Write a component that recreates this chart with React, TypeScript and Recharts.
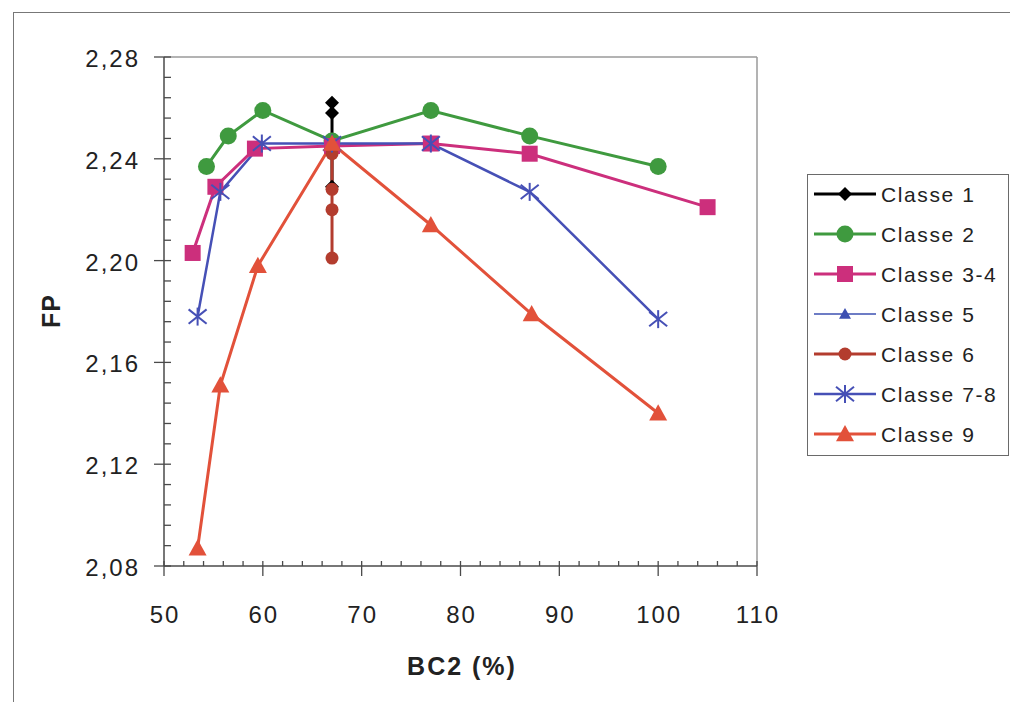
import { LineChart, Line, XAxis, YAxis, Legend, ReferenceLine } from "recharts";

// BC2 (%) / FP per class
const classe1BC2 = [67, 67, 67, 67];
const classe1FP = [2.262, 2.258, 2.246, 2.229];

const classe2BC2 = [54.3, 56.5, 60, 67, 77, 87, 100];
const classe2FP = [2.237, 2.249, 2.259, 2.247, 2.259, 2.249, 2.237];

const classe34BC2 = [52.9, 55.2, 59.2, 67, 77, 87, 105];
const classe34FP = [2.203, 2.229, 2.244, 2.245, 2.246, 2.242, 2.221];

const classe5BC2 = [67];
const classe5FP = [2.246];

const classe6BC2 = [67, 67, 67, 67];
const classe6FP = [2.242, 2.228, 2.22, 2.201];

const classe78BC2 = [53.4, 55.7, 59.9, 67, 77, 87, 100];
const classe78FP = [2.178, 2.227, 2.246, 2.246, 2.246, 2.227, 2.177];

const classe9BC2 = [53.4, 55.7, 59.5, 67, 77, 87.2, 100];
const classe9FP = [2.087, 2.151, 2.198, 2.246, 2.214, 2.179, 2.14];

const xMajorTicks = [50, 60, 70, 80, 90, 100, 110];
const yMajorTicks = [2.08, 2.12, 2.16, 2.2, 2.24, 2.28];

const xTicks = Array.from({ length: 31 }, (_, i) => 50 + i * 2);
const yTicks = Array.from({ length: 26 }, (_, i) => Number((2.08 + i * 0.008).toFixed(3)));

const FONT = "'Liberation Sans', Arial, sans-serif";
const AXIS = "#4a4a4a";
const TEXT = "#222";

const zip = (xs: number[], ys: number[]) => xs.map((x, i) => ({ x, y: ys[i] }));

type Shape = "diamond" | "circle" | "square" | "triangle" | "star";

const SERIES: { name: string; data: { x: number; y: number }[]; color: string; width: number; shape: Shape; size: number }[] = [
  { name: "Classe 1", data: zip(classe1BC2, classe1FP), color: "#000000", width: 3, shape: "diamond", size: 7 },
  { name: "Classe 2", data: zip(classe2BC2, classe2FP), color: "#3f9a3f", width: 3, shape: "circle", size: 8.5 },
  { name: "Classe 3-4", data: zip(classe34BC2, classe34FP), color: "#cc2f7c", width: 3, shape: "square", size: 8 },
  { name: "Classe 5", data: zip(classe5BC2, classe5FP), color: "#3d50b2", width: 1.5, shape: "triangle", size: 6 },
  { name: "Classe 6", data: zip(classe6BC2, classe6FP), color: "#b33c2e", width: 3, shape: "circle", size: 6.5 },
  { name: "Classe 7-8", data: zip(classe78BC2, classe78FP), color: "#4650b6", width: 2.5, shape: "star", size: 9 },
  { name: "Classe 9", data: zip(classe9BC2, classe9FP), color: "#e2513a", width: 3, shape: "triangle", size: 9 },
];

const Marker = ({ shape, cx, cy, size, color }: { shape: Shape; cx: number; cy: number; size: number; color: string }) => {
  if (cx == null || cy == null) return null;
  const s = size;
  switch (shape) {
    case "diamond":
      return <polygon points={`${cx},${cy - s} ${cx + s},${cy} ${cx},${cy + s} ${cx - s},${cy}`} fill={color} />;
    case "circle":
      return <circle cx={cx} cy={cy} r={s} fill={color} />;
    case "square":
      return <rect x={cx - s} y={cy - s} width={2 * s} height={2 * s} fill={color} />;
    case "triangle":
      return <polygon points={`${cx},${cy - s} ${cx + s},${cy + s * 0.8} ${cx - s},${cy + s * 0.8}`} fill={color} />;
    case "star":
      return (
        <g stroke={color} strokeWidth={2}>
          <line x1={cx - s} y1={cy - s * 0.8} x2={cx + s} y2={cy + s * 0.8} />
          <line x1={cx - s} y1={cy + s * 0.8} x2={cx + s} y2={cy - s * 0.8} />
          <line x1={cx} y1={cy - s} x2={cx} y2={cy + s} />
        </g>
      );
  }
  return null;
};

const XTick = (props: any) => {
  const { x, y, payload } = props;
  const v = payload.value;
  if (v % 10 !== 0) {
    return <line x1={x} x2={x} y1={y - 5} y2={y} stroke={AXIS} strokeWidth={1.3} />;
  }
  return (
    <g>
      <line x1={x} x2={x} y1={y - 5} y2={y + 10} stroke={AXIS} strokeWidth={1.3} />
      <text x={x + 1} y={y + 57} textAnchor="middle" fontFamily={FONT} fontSize={24} letterSpacing={2} fill={TEXT}>
        {v}
      </text>
    </g>
  );
};

const YTick = (props: any) => {
  const { x, y, payload } = props;
  const v = payload.value;
  const k = (v - 2.08) / 0.04;
  const major = Math.abs(k - Math.round(k)) < 1e-6;
  if (!major) {
    return <line x1={x} x2={x + 7} y1={y} y2={y} stroke={AXIS} strokeWidth={1.3} />;
  }
  return (
    <g>
      <line x1={x - 10} x2={x + 7} y1={y} y2={y} stroke={AXIS} strokeWidth={1.3} />
      <text x={x - 24} y={y + 10} textAnchor="end" fontFamily={FONT} fontSize={24} letterSpacing={2} fill={TEXT}>
        {v.toFixed(2).replace(".", ",")}
      </text>
    </g>
  );
};

const renderLegend = (props: any) => {
  const payload: any[] = props.payload || [];
  const rows = SERIES.filter((s) => payload.some((p) => p.value === s.name));
  return (
    <div style={{ width: 202, height: 282, border: "1.5px solid #6a6a6a", boxSizing: "border-box", background: "#fff" }}>
      <svg width={199} height={279} style={{ display: "block" }}>
        {rows.map((s, i) => {
          const cy = 19 + i * 40;
          return (
            <g key={s.name}>
              <line x1={6} x2={68} y1={cy} y2={cy} stroke={s.color} strokeWidth={s.width} />
              <Marker shape={s.shape} cx={37} cy={cy} size={s.size} color={s.color} />
              <text x={73} y={cy + 8} fontFamily={FONT} fontSize={21} letterSpacing={1.6} fill={TEXT}>
                {s.name}
              </text>
            </g>
          );
        })}
      </svg>
    </div>
  );
};

export default function App() {
  return (
    <div style={{ position: "absolute", left: 0, top: 0, width: 1010, height: 702, background: "#fff" }}>
      <div
        style={{
          position: "absolute",
          left: 13,
          top: 12,
          width: 1010,
          height: 702,
          borderLeft: "1.5px solid #777",
          borderTop: "1.5px solid #777",
        }}
      />
      <div style={{ position: "absolute", left: 0, top: 0 }}>
        <LineChart width={1010} height={702} margin={{ top: 57, right: 253, left: 14, bottom: 76 }}>
          <XAxis
            type="number"
            dataKey="x"
            domain={[50, 110]}
            ticks={xTicks}
            interval={0}
            tickSize={0}
            tickMargin={0}
            tickLine={false}
            tick={<XTick />}
            axisLine={{ stroke: AXIS, strokeWidth: 1.5 }}
            height={60}
            allowDataOverflow
          />
          <YAxis
            type="number"
            dataKey="y"
            domain={[2.08, 2.28]}
            ticks={yTicks}
            interval={0}
            tickSize={0}
            tickMargin={0}
            tickLine={false}
            tick={<YTick />}
            axisLine={{ stroke: AXIS, strokeWidth: 1.5 }}
            width={150}
            allowDataOverflow
          />
          <ReferenceLine y={2.28} stroke="#9a9a9a" strokeWidth={1.5} />
          <ReferenceLine x={110} stroke="#9a9a9a" strokeWidth={1.5} />
          {SERIES.map((s) => (
            <Line
              key={s.name}
              name={s.name}
              data={s.data}
              dataKey="y"
              type="linear"
              stroke={s.color}
              strokeWidth={s.width}
              isAnimationActive={false}
              dot={(p: any) => <Marker key={`${s.name}-${p.index}`} shape={s.shape} cx={p.cx} cy={p.cy} size={s.size} color={s.color} />}
              activeDot={false}
            />
          ))}
          <Legend
            layout="vertical"
            align="center"
            verticalAlign="middle"
            content={renderLegend}
            wrapperStyle={{ position: "absolute", left: 807, top: 174, width: 202, height: 282 }}
          />
          <text x={462} y={675} textAnchor="middle" fontFamily={FONT} fontSize={25} fontWeight="bold" letterSpacing={2} fill={TEXT}>
            BC2 (%)
          </text>
          <text
            x={60}
            y={311}
            textAnchor="middle"
            transform="rotate(-90 60 311)"
            fontFamily={FONT}
            fontSize={25}
            fontWeight="bold"
            letterSpacing={1}
            fill={TEXT}
          >
            FP
          </text>
        </LineChart>
      </div>
    </div>
  );
}
